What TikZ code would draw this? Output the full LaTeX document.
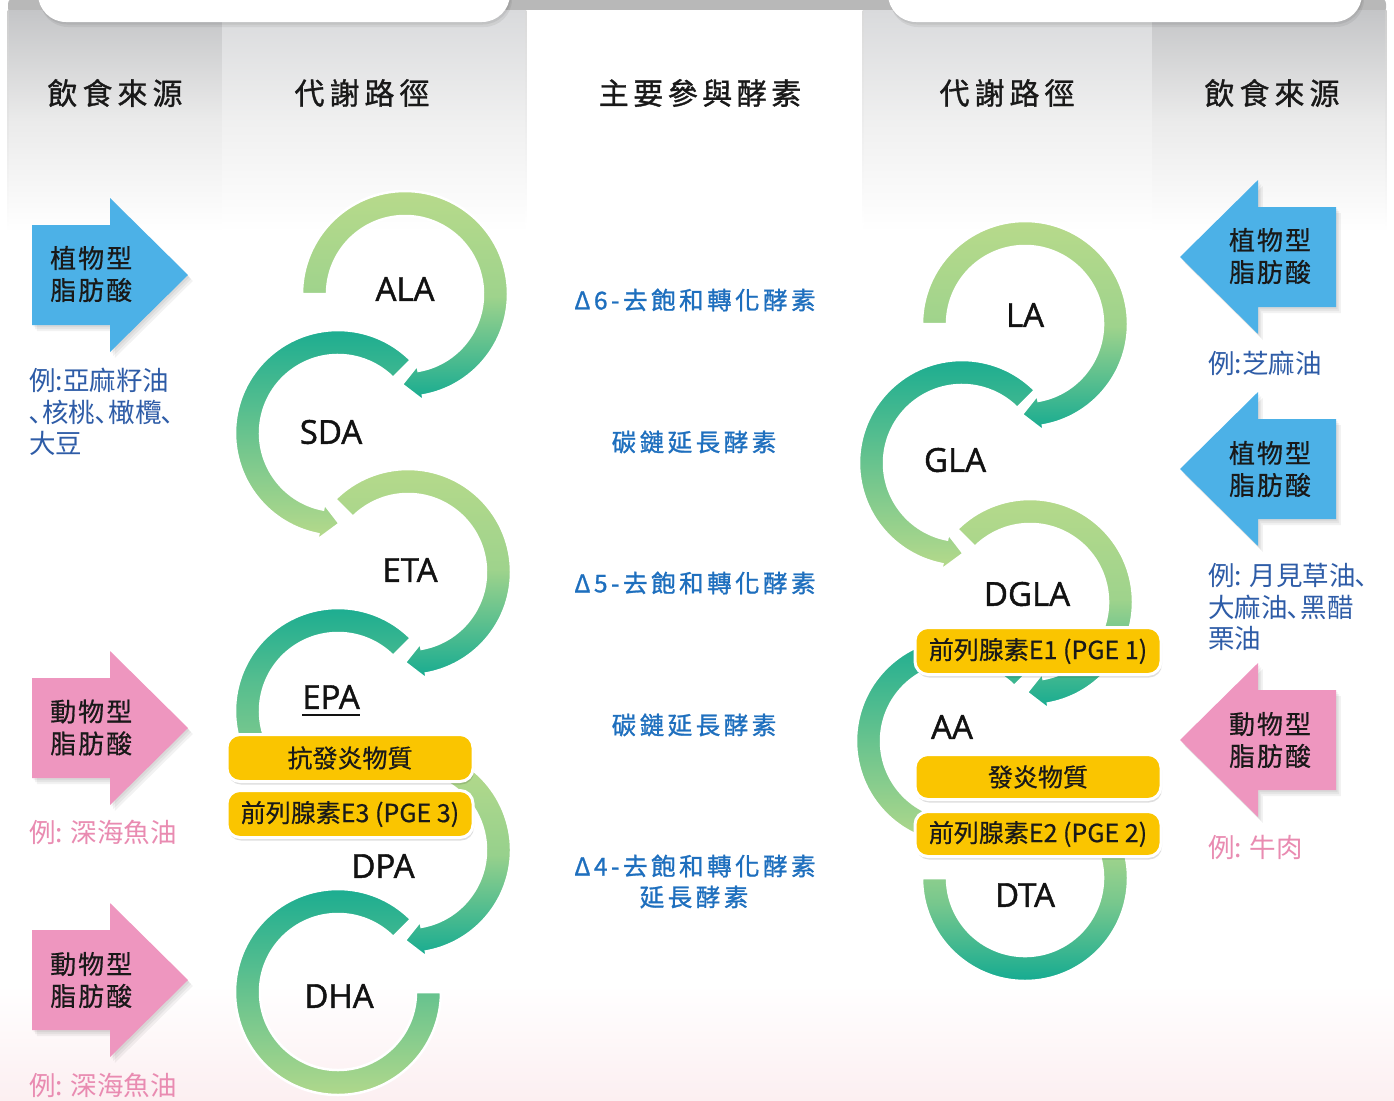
\documentclass[tikz,border=0pt]{standalone}
\usepackage{fontspec}
\newfontfamily\cjk{Noto Sans CJK TC}
\newfontfamily\cjkm[FakeBold=0.6]{Noto Sans CJK TC}
\newfontfamily\cjkb[FakeBold=1.1]{Noto Sans CJK TC}
\newfontfamily\labfont[FakeBold=1.3]{Open Sans}
\usetikzlibrary{calc}
\definecolor{lg}{HTML}{B7DA8B}
\definecolor{tl}{HTML}{15AB91}
\definecolor{arrblue}{HTML}{4CB1E7}
\definecolor{arrpink}{HTML}{EE96BF}
\definecolor{exblue}{HTML}{2E5CA7}
\definecolor{expink}{HTML}{E98BB1}
\definecolor{enzblue}{HTML}{1E6FBE}
\definecolor{boxy}{HTML}{FAC500}
\definecolor{colA}{HTML}{C4C5C7}
\definecolor{colB}{HTML}{D9DADC}
\definecolor{strip}{HTML}{B8B8B8}
\definecolor{pinkbg}{HTML}{FCEFF1}
\makeatletter
\def\ls#1#2{\def\ls@gap{\hspace{#1}}\ls@first#2\ls@end}
\def\ls@first#1{#1\ls@aux}
\def\ls@aux#1{\ifx#1\ls@end\else\ls@gap#1\expandafter\ls@aux\fi}
\makeatother
% ring with arrowhead: cx, cy(image), start, base, tip, top, middle, bottom
\newcommand{\ringarrow}[8]{%
  \shadedraw[draw=white, line width=2.5pt, top color=#6, bottom color=#8, middle color=#7]
   ($(#1,-#2)+(#3:103)$) arc[start angle=#3, end angle=#4, radius=103]
   -- ($(#1,-#2)+(#4:109)$) -- ($(#1,-#2)+(#5:90.5)$) -- ($(#1,-#2)+(#4:72)$)
   -- ($(#1,-#2)+(#4:78)$) arc[start angle=#4, end angle=#3, radius=78] -- cycle;}
% ring without arrowhead: cx, cy, start, end, top, middle, bottom
\newcommand{\ringplain}[7]{%
  \shadedraw[draw=white, line width=2.5pt, top color=#5, bottom color=#7, middle color=#6]
   ($(#1,-#2)+(#3:103)$) arc[start angle=#3, end angle=#4, radius=103]
   -- ($(#1,-#2)+(#4:78)$) arc[start angle=#4, end angle=#3, radius=78] -- cycle;}
% big arrows
\newcommand{\arrR}[2]{%
  \foreach \s in {2,4,6}{\fill[black, opacity=0.05, shift={(\s*0.8,-\s)}]
    (32,-#1+50) -- (110,-#1+50) -- (110,-#1+77) -- (188,-#1) -- (110,-#1-77) -- (110,-#1-50) -- (32,-#1-50) -- cycle;}
  \fill[#2] (32,-#1+50) -- (110,-#1+50) -- (110,-#1+77) -- (188,-#1) -- (110,-#1-77) -- (110,-#1-50) -- (32,-#1-50) -- cycle;}
\newcommand{\arrL}[2]{%
  \foreach \s in {2,4,6}{\fill[black, opacity=0.05, shift={(\s*0.8,-\s)}]
    (1336,-#1+50) -- (1258,-#1+50) -- (1258,-#1+77) -- (1180,-#1) -- (1258,-#1-77) -- (1258,-#1-50) -- (1336,-#1-50) -- cycle;}
  \fill[#2] (1336,-#1+50) -- (1258,-#1+50) -- (1258,-#1+77) -- (1180,-#1) -- (1258,-#1-77) -- (1258,-#1-50) -- (1336,-#1-50) -- cycle;}
\begin{document}
\begin{tikzpicture}[x=1pt,y=1pt,
  hdr/.style={font=\cjkb\fontsize{30}{36}\selectfont, text=black!90, inner sep=0pt},
  arrtxt/.style={font=\cjkm\fontsize{26}{32}\selectfont, text=black!90, align=left, inner sep=0pt},
  exb/.style={font=\cjk\fontsize{26.5}{31.5}\selectfont, text=exblue, align=left, anchor=west, inner sep=0pt},
  exq/.style={font=\cjk\fontsize{26.5}{31.5}\selectfont, text=expink, align=left, anchor=west, inner sep=0pt},
  enz/.style={font=\cjkb\fontsize{24.5}{31}\selectfont, text=enzblue, align=center, inner sep=0pt},
  chain/.style={font=\labfont\fontsize{33}{40}\selectfont, text=black!93, inner sep=0pt},
  ybox/.style={rounded corners=13pt, fill=boxy, draw=white, line width=3pt, minimum width=246pt,
    minimum height=47pt, font=\cjkm\fontsize{25}{30}\selectfont, text=black!90, inner sep=0pt,
    preaction={fill=black, fill opacity=0.13, draw=none, transform canvas={xshift=1pt,yshift=-3pt}}}]
\useasboundingbox (0,0) rectangle (1394,-1100);
\fill[white] (0,0) rectangle (1394,-1100);
\shade[top color=white, bottom color=pinkbg] (0,-985) rectangle (1394,-1100);
% header panel
\fill[strip, rounded corners=6pt] (8,2) rectangle (1386,-14);
\shade[top color=colA, bottom color=white, middle color=white!92!black] (8,-10) rectangle (222,-232);
\shade[top color=colB, bottom color=white, middle color=white!94!black] (222,-10) rectangle (526,-232);
\fill[white] (526,-10) rectangle (863,-232);
\shade[top color=colB, bottom color=white, middle color=white!94!black] (863,-10) rectangle (1152,-232);
\shade[top color=colA, bottom color=white, middle color=white!92!black] (1152,-10) rectangle (1386,-232);
\shade[top color=white!85!black, bottom color=white] (525.7,-10) rectangle (526.3,-225);
\shade[top color=white!85!black, bottom color=white] (862.7,-10) rectangle (863.3,-225);
\shade[top color=white!80!black, bottom color=white] (7.5,-10) rectangle (8.5,-232);
\shade[top color=white!80!black, bottom color=white] (1385.5,-10) rectangle (1386.5,-232);
\foreach \xa/\xb in {38/510, 888/1362}{
  \fill[black, opacity=0.06, rounded corners=28pt] (\xa+2,40) rectangle (\xb+2,-27);
  \fill[black, opacity=0.06, rounded corners=28pt] (\xa+1,40) rectangle (\xb+1,-24.5);
  \fill[white, rounded corners=28pt] (\xa,40) rectangle (\xb,-22);
}
\node[hdr] (h1) at (115,-93) {\ls{5pt}{飲食來源}};
\node[hdr] (h2) at (362,-93) {\ls{5pt}{代謝路徑}};
\node[hdr] (h3) at (700,-93) {\ls{4.5pt}{主要參與酵素}};
\node[hdr] (h4) at (1007,-93) {\ls{5pt}{代謝路徑}};
\node[hdr] (h5) at (1272,-93) {\ls{5pt}{飲食來源}};
% left chain rings (reverse order so arrowheads lie on top)
\ringplain{338}{992}{45}{360}{tl}{tl!50!lg}{lg}
\ringarrow{408}{850}{70}{-80}{-92}{lg}{lg!80!tl}{tl}
\ringplain{338}{711}{45}{212}{tl}{tl!60!lg}{tl!30!lg}
\ringarrow{408}{572}{135}{-80}{-92}{lg}{lg!85!tl}{tl}
\ringarrow{338}{433}{45}{259}{271}{tl}{tl!50!lg}{lg}
\ringarrow{405}{294}{180}{-80}{-92}{lg}{lg!85!tl}{tl}
% right chain rings
\ringplain{1025}{878}{180}{390}{lg}{lg!60!tl}{tl}
\ringarrow{959}{741}{45}{259}{271}{tl}{tl!50!lg}{lg}
\ringarrow{1030}{602}{135}{-80}{-92}{lg}{lg!85!tl}{tl}
\ringarrow{962}{463}{45}{259}{271}{tl}{tl!50!lg}{lg}
\ringarrow{1025}{324}{180}{-80}{-92}{lg}{lg!85!tl}{tl}
% chain labels
\node[chain] (ala) at (405,-289) {ALA};
\node[chain] (sda) at (331,-432) {SDA};
\node[chain] (eta) at (410,-570) {ETA};
\node[chain] (epa) at (331,-697) {EPA};
\draw[black!93, line width=2.6pt] ([yshift=-6pt]epa.south west) -- ([yshift=-6pt]epa.south east);
\node[chain] (dpa) at (383,-866) {DPA};
\node[chain] (dha) at (339,-996) {DHA};
\node[chain] (la) at (1025,-315) {LA};
\node[chain] (gla) at (955,-460) {GLA};
\node[chain] (dgla) at (1027,-594) {DGLA};
\node[chain] (aa) at (952,-727) {AA};
\node[chain] (dta) at (1025,-895) {DTA};
% yellow boxes
\node[ybox] (b1) at (350,-758) {抗發炎物質};
\node[ybox] (b2) at (350,-814) {前列腺素E3 (PGE 3)};
\node[ybox] (b3) at (1038,-651) {前列腺素E1 (PGE 1)};
\node[ybox, minimum height=45pt] (b4) at (1038,-777) {發炎物質};
\node[ybox, minimum height=45pt] (b5) at (1038,-834) {前列腺素E2 (PGE 2)};
% enzymes
\node[enz] (e1) at (695,-300) {\ls{3.5pt}{Δ6-去飽和轉化酵素}};
\node[enz] (e2) at (694,-442) {\ls{3.5pt}{碳鏈延長酵素}};
\node[enz] (e3) at (695,-583) {\ls{3.5pt}{Δ5-去飽和轉化酵素}};
\node[enz] (e4) at (694,-725) {\ls{3.5pt}{碳鏈延長酵素}};
\node[enz] (e5) at (695,-866) {\ls{3.5pt}{Δ4-去飽和轉化酵素}};
\node[enz] (e6) at (694,-897) {\ls{3.5pt}{延長酵素}};
% big arrows
\arrR{275}{arrblue}
\arrR{728}{arrpink}
\arrR{980}{arrpink}
\arrL{257}{arrblue}
\arrL{469}{arrblue}
\arrL{740}{arrpink}
\node[arrtxt, anchor=west] (a1) at (50,-274) {\ls{2pt}{植物型}\\\ls{2pt}{脂肪酸}};
\node[arrtxt, anchor=west] (a2) at (50,-727.5) {\ls{2pt}{動物型}\\\ls{2pt}{脂肪酸}};
\node[arrtxt, anchor=west] (a3) at (50,-980) {\ls{2pt}{動物型}\\\ls{2pt}{脂肪酸}};
\node[arrtxt] (a4) at (1270,-256) {\ls{2pt}{植物型}\\\ls{2pt}{脂肪酸}};
\node[arrtxt] (a5) at (1270,-469) {\ls{2pt}{植物型}\\\ls{2pt}{脂肪酸}};
\node[arrtxt] (a6) at (1270,-740) {\ls{2pt}{動物型}\\\ls{2pt}{脂肪酸}};
% examples
\node[exb] (x1) at (29,-412) {例:亞麻籽油\\､核桃､橄欖､\\大豆};
\node[exq] (x2) at (29,-832) {例: 深海魚油};
\node[exq] (x3) at (29,-1085) {例: 深海魚油};
\node[exb] (x4) at (1208,-363) {例:芝麻油};
\node[exb] (x5) at (1208,-607) {例: 月見草油､\\大麻油､黑醋\\栗油};
\node[exq] (x6) at (1208,-847) {例: 牛肉};
\end{tikzpicture}
\end{document}
